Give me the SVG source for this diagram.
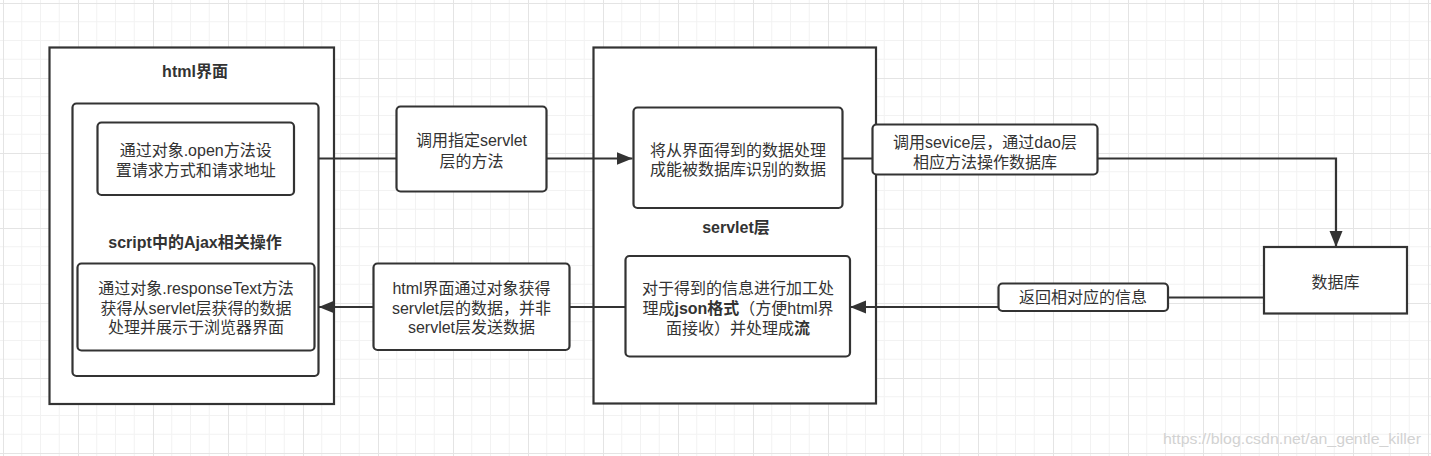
<svg xmlns="http://www.w3.org/2000/svg" width="1431" height="456" viewBox="0 0 1431 456">
<style>
.box{fill:#fff;stroke:#333;stroke-width:2.2}
.edge{fill:none;stroke:#333;stroke-width:2.2}
.t{font-family:"Liberation Sans","Noto Sans CJK SC",sans-serif;font-size:16px;fill:#333;text-anchor:middle}
.b{font-weight:bold}
.wm{font-family:"Liberation Sans",sans-serif;font-size:15px;fill:#d2d2d2}
</style>
<defs>
<pattern id="grid" patternUnits="userSpaceOnUse" x="3" y="3" width="75" height="75">
<path d="M18.75 0V75M37.5 0V75M56.25 0V75M0 18.75H75M0 37.5H75M0 56.25H75" stroke="#f2f2f2" stroke-width="1" fill="none"/>
<path d="M0.5 0V75M0 0.5H75" stroke="#e4e4e4" stroke-width="1" fill="none"/>
</pattern>
<marker id="arr" markerUnits="userSpaceOnUse" markerWidth="18" markerHeight="14" refX="16" refY="6.5" orient="auto">
<path d="M0,0 L16,6.5 L0,13 Z" fill="#333"/>
</marker>
</defs>
<rect x="0" y="0" width="1431" height="456" fill="#fff"/>
<rect x="0" y="0" width="1431" height="456" fill="url(#grid)"/>

<g id="html-layer">
<rect class="box" x="49.5" y="47.5" width="284.5" height="356.5"/>
<text class="t b" x="195" y="76.5">html界面</text>
</g>
<g id="servlet-layer">
<rect class="box" x="593.5" y="47.5" width="282.5" height="356"/>
<text class="t b" x="736" y="232.5">servlet层</text>
</g>

<g id="connectors">
<path class="edge" d="M318.7,158.5 H632.5" marker-end="url(#arr)"/>
<path class="edge" d="M842,158.5 H1336 V247" marker-end="url(#arr)"/>
<path class="edge" d="M1264,297.5 H1083 V307 H850" marker-end="url(#arr)"/>
<path class="edge" d="M625.5,307 H318.7" marker-end="url(#arr)"/>
</g>

<g id="ajax-group">
<rect class="box" x="72.5" y="103.5" width="246" height="272.5" rx="4"/>
<text class="t b" x="195" y="247.5">script中的Ajax相关操作</text>
</g>
<g id="open-box">
<rect class="box" x="97.5" y="122.5" width="196.5" height="72.5" rx="4"/>
<text class="t" x="195.7" y="156">通过对象.open方法设<tspan x="195.7" dy="19.5">置请求方式和请求地址</tspan></text>
</g>
<g id="response-box">
<rect class="box" x="77.5" y="263.5" width="237" height="87" rx="4"/>
<text class="t" x="196" y="294">通过对象.responseText方法<tspan x="196" dy="19.7">获得从servlet层获得的数据</tspan><tspan x="196" dy="19.7">处理并展示于浏览器界面</tspan></text>
</g>
<g id="label-call-servlet">
<rect class="box" x="396.5" y="106.5" width="150" height="85" rx="4"/>
<text class="t" x="471.5" y="146">调用指定servlet<tspan x="471.5" dy="20.5">层的方法</tspan></text>
</g>
<g id="convert-box">
<rect class="box" x="633.5" y="107.5" width="209" height="100.5" rx="4"/>
<text class="t" x="738" y="156">将从界面得到的数据处理<tspan x="738" dy="19">成能被数据库识别的数据</tspan></text>
</g>
<g id="json-box">
<rect class="box" x="625.5" y="256" width="224.5" height="100.5" rx="4"/>
<text class="t" x="738" y="294">对于得到的信息进行加工处<tspan x="738" dy="20">理成<tspan class="b">json格式</tspan>（方便html界</tspan><tspan x="738" dy="20">面接收）并处理成<tspan class="b">流</tspan></tspan></text>
</g>
<g id="label-return-html">
<rect class="box" x="373.5" y="263.5" width="196" height="86.5" rx="4"/>
<text class="t" x="471.5" y="294">html界面通过对象获得<tspan x="471.5" dy="19.7">servlet层的数据，并非</tspan><tspan x="471.5" dy="19.7">servlet层发送数据</tspan></text>
</g>
<g id="label-call-service">
<rect class="box" x="872.5" y="124.5" width="225" height="50" rx="4"/>
<text class="t" x="985" y="147.5">调用sevice层，通过dao层<tspan x="985" dy="20">相应方法操作数据库</tspan></text>
</g>
<g id="database">
<rect class="box" x="1264" y="247" width="143" height="66.5"/>
<text class="t" x="1335.5" y="287.5">数据库</text>
</g>
<g id="label-return-info">
<rect class="box" x="998.5" y="283.5" width="169.5" height="27.5" rx="4"/>
<text class="t" x="1083" y="303">返回相对应的信息</text>
</g>
<text class="wm" x="1163" y="443.5" textLength="258" lengthAdjust="spacingAndGlyphs">https://blog.csdn.net/an_gentle_killer</text>
</svg>
